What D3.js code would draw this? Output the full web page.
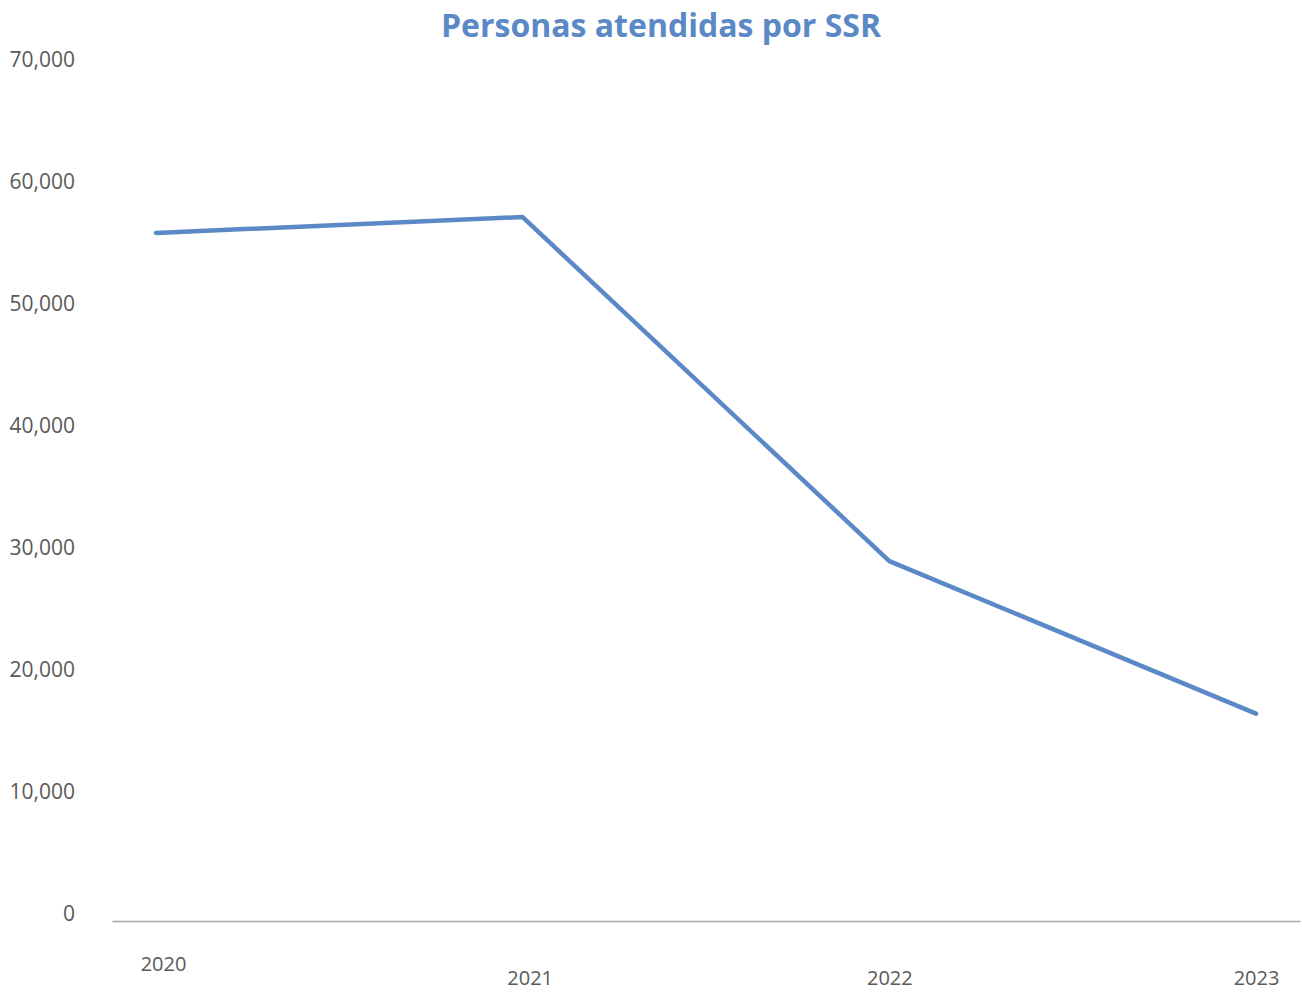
<!DOCTYPE html>
<html>
<head>
<meta charset="utf-8">
<script src="https://cdn.jsdelivr.net/npm/d3@7"></script>
<style>
  body { margin: 0; background: #fff; }
  text { font-family: "Open Sans", sans-serif; }
</style>
</head>
<body>
<div id="chart"></div>
<script>
// data
var years = ["2020", "2021", "2022", "2023"];
var personas = [56400, 57700, 29500, 17000];
var yTicks = [0, 10000, 20000, 30000, 40000, 50000, 60000, 70000];
var titleText = "Personas atendidas por SSR";

var W = 1302, H = 992;

var svg = d3.select("#chart")
  .append("svg")
    .attr("width", W)
    .attr("height", H);

// scales
var x = d3.scalePoint()
    .domain(years)
    .range([112, 1300])
    .padding(0.12);

var y = d3.scaleLinear()
    .domain([0, 70000])
    .range([921, 67]);

// title
svg.append("text")
  .attr("x", 661)
  .attr("y", 37)
  .attr("text-anchor", "middle")
  .style("font-size", "32px")
  .style("font-weight", "bold")
  .style("fill", "#5b88c6")
  .text(titleText);

// Y axis (labels only)
var yAxis = svg.append("g")
  .attr("transform", "translate(75,0)")
  .call(d3.axisLeft(y)
    .tickValues(yTicks)
    .tickSize(0)
    .tickPadding(0)
    .tickFormat(d3.format(",")));
yAxis.select(".domain").remove();
yAxis.selectAll("text")
  .attr("y", -7)
  .style("font-size", "21px")
  .style("fill", "#595959")
  .style("font-family", "'Open Sans', sans-serif");

// X axis with baseline
var xAxis = svg.append("g")
  .attr("transform", "translate(0," + y(0) + ")")
  .call(d3.axisBottom(x).tickSize(0).tickPadding(50));
xAxis.select(".domain")
  .attr("stroke", "#a6a6a6")
  .attr("stroke-width", 1.5);
xAxis.selectAll("text")
  .attr("x", function(d, i) { return i < 2 ? 7 : 0 })
  .attr("y", function(d, i) { return i === 0 ? 36 : 50 })
  .style("font-size", "20px")
  .style("fill", "#595959")
  .style("font-family", "'Open Sans', sans-serif");

// the line
svg.append("path")
  .datum(personas)
  .attr("fill", "none")
  .attr("stroke", "#5b88c6")
  .attr("stroke-width", 4.5)
  .attr("stroke-linejoin", "round")
  .attr("stroke-linecap", "round")
  .attr("d", d3.line()
    .x(function(d, i) { return x(years[i]) })
    .y(function(d) { return y(d) }));
</script>
</body>
</html>
